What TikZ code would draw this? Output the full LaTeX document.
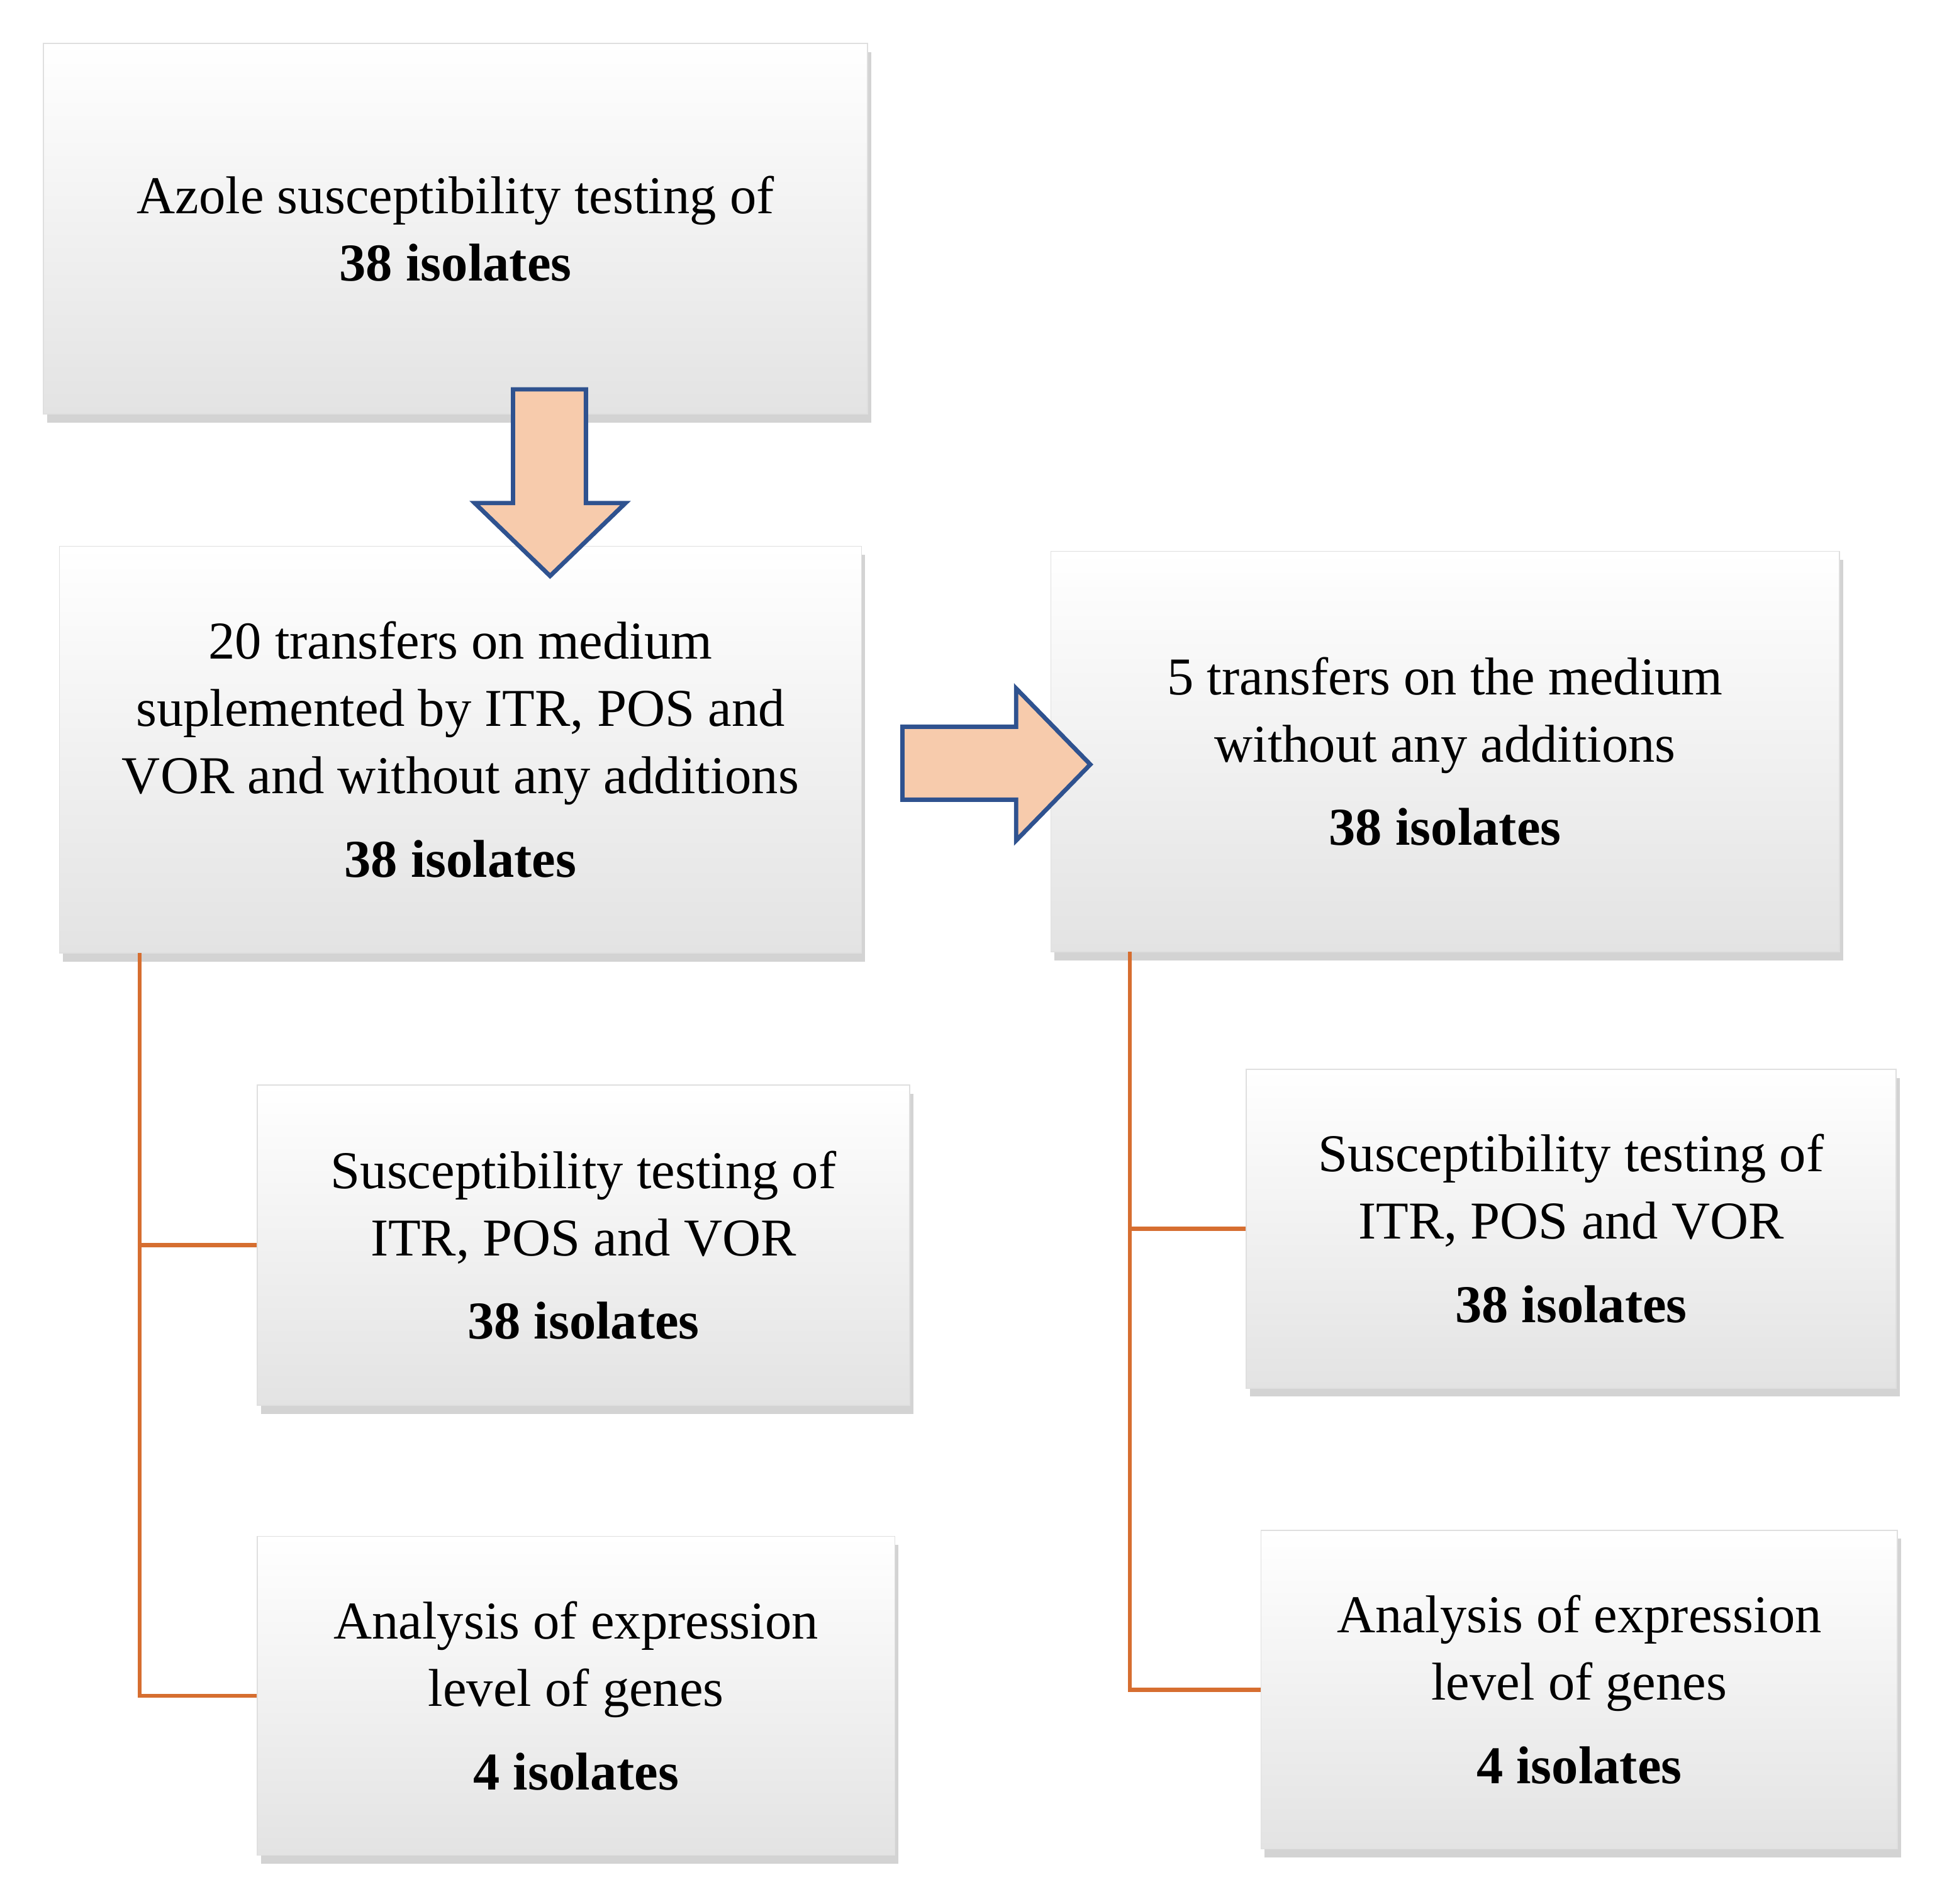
\documentclass[tikz,border=0pt]{standalone}
\usepackage{fontspec}
\setmainfont{Liberation Serif}
\usetikzlibrary{shadows}
\definecolor{peach}{RGB}{247,203,172}
\definecolor{navy}{RGB}{47,82,143}
\definecolor{org}{RGB}{214,110,48}
\begin{document}
\begin{tikzpicture}[x=0.02cm,y=-0.02cm,
  box/.style={draw=gray!25,line width=0.5pt,top color=white,bottom color=gray!22,
    drop shadow={shadow xshift=0.06cm,shadow yshift=-0.14cm,opacity=0.35,fill=gray},
    align=center,font=\fontsize{24.5}{31}\selectfont,inner sep=0pt},
  blk/.style={draw=navy,line width=2pt,fill=peach,line join=miter},
  conn/.style={draw=org,line width=2pt}]
\useasboundingbox (0,0) rectangle (1571,1540);
\node[box,minimum width=13.34cm,minimum height=6cm] (b1) at (368.5,185)
  {Azole susceptibility testing of\\\textbf{38 isolates}};
\node[box,minimum width=12.98cm,minimum height=6.58cm] (b2) at (372.5,606.5)
  {20 transfers on medium\\suplemented by ITR, POS and\\VOR and without any additions\\[0.3em]\textbf{38 isolates}};
\node[box,minimum width=12.76cm,minimum height=6.48cm] (b3) at (1169,608)
  {5 transfers on the medium\\without any additions\\[0.3em]\textbf{38 isolates}};
\node[box,minimum width=10.56cm,minimum height=5.18cm] (b4) at (472,1007.5)
  {Susceptibility testing of\\ITR, POS and VOR\\[0.3em]\textbf{38 isolates}};
\node[box,minimum width=10.32cm,minimum height=5.16cm] (b5) at (466,1372)
  {Analysis of expression\\level of genes\\[0.3em]\textbf{4 isolates}};
\node[box,minimum width=10.52cm,minimum height=5.16cm] (b6) at (1271,994)
  {Susceptibility testing of\\ITR, POS and VOR\\[0.3em]\textbf{38 isolates}};
\node[box,minimum width=10.3cm,minimum height=5.16cm] (b7) at (1277.5,1367)
  {Analysis of expression\\level of genes\\[0.3em]\textbf{4 isolates}};
% block arrows
\draw[blk] (415,315) -- (474,315) -- (474,407) -- (506,407) -- (445,466) -- (384,407) -- (415,407) -- cycle;
\draw[blk] (730,588) -- (822,588) -- (822,557) -- (882,618.5) -- (822,680) -- (822,647) -- (730,647) -- cycle;
% connectors
\coordinate (l1) at (113,771);
\coordinate (l2) at (914,770);
\draw[conn] (l1) |- (b4.west);
\draw[conn] (l1) |- (b5.west);
\draw[conn] (l2) |- (b6.west);
\draw[conn] (l2) |- (b7.west);
\end{tikzpicture}
\end{document}
